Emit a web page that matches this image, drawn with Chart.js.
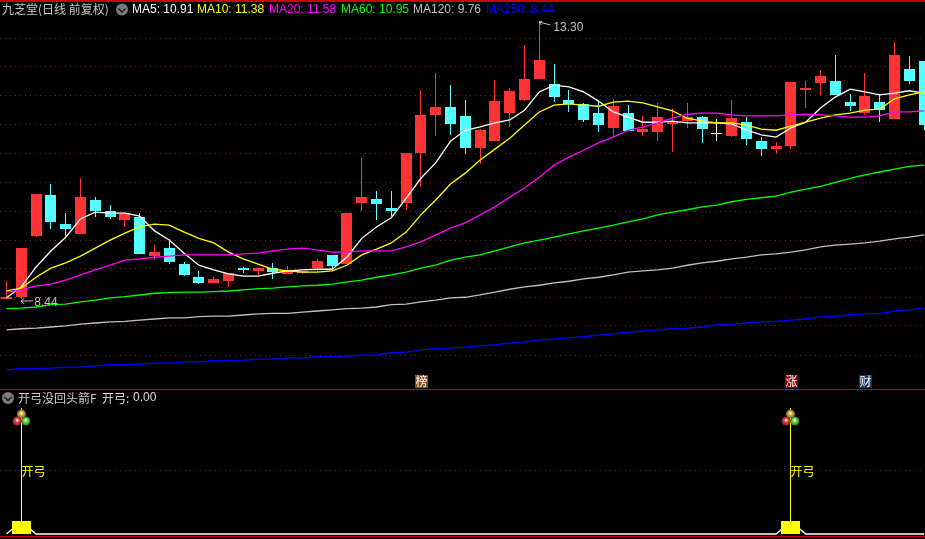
<!DOCTYPE html>
<html>
<head>
<meta charset="utf-8">
<title>九芝堂</title>
<script src="https://cdn.jsdelivr.net/npm/chart.js@4"></script>
<style>
    html, body { margin: 0; padding: 0; background: #000; overflow: hidden; }
    canvas { display: block; }
</style>
</head>
<body>
<canvas id="klineChart" width="925" height="539"></canvas>
<script>
const opens = [8.44,8.47,9.54,10.26,9.75,9.58,10.17,9.98,9.82,9.87,9.19,9.33,9.05,8.82,8.72,8.75,8.98,8.93,8.98,8.88,8.89,8.98,9.21,9.05,10.12,10.19,10.03,10.12,10.99,11.66,11.80,11.64,11.08,11.20,11.69,11.92,12.29,12.20,11.92,11.85,11.69,11.43,11.69,11.36,11.36,11.50,11.55,11.62,11.33,11.29,11.53,11.20,11.06,11.12,12.10,12.22,12.25,11.88,11.69,11.88,11.59,12.46,12.60];
const highs = [8.75,9.33,10.28,10.45,9.94,10.55,10.22,10.08,9.94,9.94,9.38,9.49,9.09,8.93,8.82,8.89,9.00,8.98,9.07,9.02,8.93,9.14,9.21,9.94,10.90,10.33,10.33,10.99,12.09,12.39,12.18,11.92,11.41,12.27,12.13,12.88,13.30,12.55,12.09,11.87,11.92,11.94,11.83,11.64,11.87,11.78,11.87,11.64,11.59,11.92,11.62,11.27,11.18,12.23,12.25,12.44,12.71,12.02,12.39,12.02,12.93,12.69,12.60];
const lows = [8.44,8.44,9.52,9.66,9.54,9.58,9.87,9.84,9.70,9.23,9.12,9.05,8.84,8.70,8.72,8.65,8.89,8.86,8.79,8.88,8.88,8.91,8.98,9.05,9.98,9.82,9.89,10.00,10.40,11.29,11.31,10.97,10.80,11.20,11.45,11.90,12.29,11.88,11.71,11.53,11.36,11.27,11.38,11.29,11.20,11.01,11.43,11.17,11.20,11.27,11.13,10.94,10.97,11.06,11.78,12.01,12.01,11.73,11.66,11.53,11.59,12.20,11.39];
const closes = [8.47,9.33,10.28,9.79,9.66,10.22,9.98,9.87,9.93,9.23,9.26,9.09,8.86,8.72,8.79,8.89,8.95,8.98,8.91,8.95,8.93,9.10,9.02,9.94,10.22,10.10,9.98,10.99,11.66,11.80,11.50,11.08,11.39,11.90,12.08,12.29,12.62,11.97,11.85,11.57,11.48,11.81,11.38,11.41,11.62,11.55,11.62,11.41,11.33,11.60,11.24,11.06,11.12,12.23,12.12,12.34,12.01,11.81,11.99,11.74,12.71,12.25,11.48];

const ma5 = [8.46,8.65,9.00,9.28,9.52,9.84,9.96,9.94,9.94,9.89,9.63,9.47,9.24,9.03,8.95,8.88,8.84,8.84,8.89,8.93,8.95,8.96,8.96,9.17,9.50,9.70,9.86,10.20,10.55,10.82,11.20,11.39,11.45,11.52,11.57,11.74,12.06,12.18,12.15,12.06,11.90,11.71,11.62,11.53,11.53,11.55,11.52,11.52,11.52,11.50,11.39,11.31,11.27,11.43,11.53,11.78,11.97,12.11,12.06,12.01,12.04,12.08,12.04];
const ma10 = [8.58,8.63,8.82,8.98,9.07,9.19,9.33,9.47,9.59,9.70,9.75,9.73,9.61,9.50,9.42,9.26,9.14,9.05,8.96,8.93,8.91,8.91,8.93,9.03,9.21,9.31,9.42,9.61,9.91,10.17,10.45,10.64,10.87,11.06,11.25,11.48,11.71,11.83,11.85,11.83,11.81,11.88,11.90,11.87,11.80,11.73,11.60,11.55,11.52,11.52,11.48,11.41,11.39,11.46,11.53,11.60,11.66,11.69,11.74,11.76,11.94,12.01,12.06];
const ma20 = [8.56,8.60,8.67,8.70,8.77,8.86,8.95,9.03,9.12,9.14,9.17,9.19,9.21,9.21,9.21,9.21,9.23,9.24,9.28,9.31,9.33,9.30,9.26,9.26,9.28,9.28,9.28,9.35,9.44,9.56,9.68,9.77,9.91,10.05,10.22,10.38,10.57,10.78,10.92,11.04,11.17,11.27,11.39,11.45,11.52,11.60,11.67,11.69,11.69,11.66,11.64,11.64,11.64,11.66,11.67,11.66,11.64,11.62,11.62,11.64,11.71,11.71,11.73];
const ma60 = [8.27,8.28,8.30,8.34,8.35,8.39,8.42,8.46,8.48,8.51,8.54,8.55,8.56,8.56,8.57,8.58,8.60,8.62,8.63,8.65,8.67,8.68,8.70,8.74,8.77,8.82,8.86,8.91,8.98,9.03,9.12,9.17,9.21,9.28,9.35,9.42,9.47,9.52,9.58,9.63,9.68,9.73,9.79,9.84,9.91,9.96,10.00,10.05,10.08,10.14,10.18,10.21,10.24,10.31,10.36,10.41,10.48,10.55,10.61,10.66,10.71,10.76,10.78];
const ma120 = [7.90,7.92,7.93,7.95,7.97,8.00,8.02,8.04,8.05,8.07,8.09,8.11,8.11,8.13,8.14,8.14,8.16,8.18,8.19,8.19,8.21,8.23,8.25,8.27,8.28,8.30,8.34,8.35,8.39,8.42,8.46,8.47,8.51,8.56,8.61,8.65,8.68,8.72,8.75,8.79,8.82,8.86,8.91,8.93,8.95,8.98,9.03,9.07,9.10,9.14,9.17,9.21,9.23,9.26,9.30,9.35,9.38,9.40,9.42,9.45,9.49,9.52,9.56];
const ma250 = [7.20,7.22,7.22,7.23,7.25,7.25,7.27,7.29,7.29,7.30,7.32,7.32,7.34,7.34,7.36,7.36,7.37,7.39,7.39,7.41,7.41,7.43,7.43,7.44,7.46,7.46,7.50,7.51,7.55,7.57,7.58,7.60,7.62,7.64,7.67,7.69,7.72,7.74,7.76,7.78,7.81,7.83,7.86,7.88,7.90,7.92,7.93,7.95,7.99,8.00,8.02,8.04,8.05,8.07,8.09,8.13,8.14,8.16,8.18,8.19,8.23,8.25,8.28];

// lower panel
const kaigong = [0,0.1,0,0,0,0,0,0,0,0,0,0,0,0,0,0,0,0,0,0,0,0,0,0,0,0,0,0,0,0,0,0,0,0,0,0,0,0,0,0,0,0,0,0,0,0,0,0,0,0,0,0,0,0.1,0,0,0,0,0,0,0,0,0];
const signalDays = [1, 53];
const signalStem = [1, 1];
const signalBlock = [0.1, 0.1];

const priceGrid = [12.994,12.496,11.989,11.482,10.983,10.485,9.978,9.471,8.973,8.466,7.968,7.460];
const subGrid = [0.5];

const headerLabels = ['MA5: 10.91','MA10: 11.38','MA20: 11.58','MA60: 10.95','MA120: 9.76','MA250: 8.44'];
const headerColors = ['#ffffff','#ffff00','#ff00ff','#00ff00','#c0c0c0','#0000ff'];
const headerX = [132,197,269,341,413,486];

const tagDays = [28, 53, 58];
const tagTexts = ['榜','涨','财'];
const tagColors = ['#8b4a10','#8b0000','#103a6b'];

const cjk = '"Noto Sans CJK SC", sans-serif';
const latin = '"Liberation Sans", sans-serif';

const RED = '#ff3333';
const CYAN = '#54ffff';

function candleColor(i) {
    if (closes[i] > opens[i]) return RED;
    if (closes[i] < opens[i]) return CYAN;
    return '#ffffff';
}

function toBars(lo, hi) {
    return lo.map((v, i) => ({ x: i, y: [v, hi[i]] }));
}

function toLine(values) {
    return values.map((v, i) => ({ x: i, y: v }));
}

function maDataset(label, values, color) {
    return {
        type: 'line',
        label: label,
        data: toLine(values),
        borderColor: color,
        borderWidth: 1.3,
        pointRadius: 0,
        tension: 0,
        yAxisID: 'y',
        order: 1
    };
}

function chevron(ctx, x, y) {
    ctx.fillStyle = '#7c7c7c';
    ctx.beginPath();
    ctx.arc(x, y, 6, 0, Math.PI * 2);
    ctx.fill();
    ctx.strokeStyle = '#1a1a1a';
    ctx.lineWidth = 1.4;
    ctx.beginPath();
    ctx.moveTo(x - 3.5, y - 1);
    ctx.lineTo(x, y + 2.5);
    ctx.lineTo(x + 3.5, y - 1);
    ctx.stroke();
}

function ball(ctx, x, y, color, edge) {
    const g = ctx.createRadialGradient(x, y - 1, 0.5, x, y, 4.6);
    g.addColorStop(0, '#fff0e0');
    g.addColorStop(0.4, color);
    g.addColorStop(1, edge);
    ctx.fillStyle = g;
    ctx.beginPath();
    ctx.arc(x, y, 4.6, 0, Math.PI * 2);
    ctx.fill();
}

const pixelSnap = {
    id: 'pixelSnap',
    beforeDatasetsDraw(chart) {
        chart.data.datasets.forEach((ds, n) => {
            const meta = chart.getDatasetMeta(n);
            if (meta.type !== 'bar') return;
            meta.data.forEach(el => {
                el.x = Math.floor(el.x) + 0.5;
                el.y = Math.round(el.y);
                el.base = Math.round(el.base);
            });
        });
    }
};

const decorations = {
    id: 'decorations',
    afterDraw(chart) {
        const ctx = chart.ctx;
        const x = chart.scales.x;
        const y = chart.scales.y;
        const sub = chart.scales.ySub;
        ctx.save();

        // panel borders
        ctx.fillStyle = '#c80000';
        ctx.fillRect(0, 0, 925, 2);
        ctx.fillRect(0, 389, 925, 1);
        ctx.fillRect(0, 536, 925, 1);

        ctx.textBaseline = 'middle';
        ctx.textAlign = 'left';

        ctx.font = '12px ' + cjk;
        ctx.fillStyle = '#c8c8c8';
        ctx.fillText('九芝堂(日线 前复权)', 2, 9);
        chevron(ctx, 122, 9.5);

        ctx.font = '12px ' + latin;
        headerLabels.forEach((t, i) => {
            ctx.fillStyle = headerColors[i];
            ctx.fillText(t, headerX[i], 9.5);
        });

        // high and low notes
        ctx.fillStyle = '#c0c0c0';
        ctx.strokeStyle = '#c0c0c0';
        ctx.lineWidth = 1;
        const hx = x.getPixelForValue(36);
        const hy = y.getPixelForValue(13.30);
        ctx.beginPath();
        ctx.moveTo(hx, hy + 1);
        ctx.lineTo(hx + 11, hy + 4);
        ctx.moveTo(hx, hy + 1);
        ctx.lineTo(hx + 3, hy);
        ctx.moveTo(hx, hy + 1);
        ctx.lineTo(hx + 2, hy + 4);
        ctx.stroke();
        ctx.fillText('13.30', hx + 14, hy + 7);
        const lx = x.getPixelForValue(1);
        const ly = y.getPixelForValue(8.44);
        ctx.beginPath();
        ctx.moveTo(lx, ly + 2);
        ctx.lineTo(lx + 12, ly + 2);
        ctx.moveTo(lx, ly + 2);
        ctx.lineTo(lx + 3, ly - 1);
        ctx.moveTo(lx, ly + 2);
        ctx.lineTo(lx + 3, ly + 5);
        ctx.stroke();
        ctx.fillText('8.44', lx + 13, ly + 4);

        // event tags above the panel border
        ctx.font = '12px ' + cjk;
        ctx.textAlign = 'center';
        tagDays.forEach((d, i) => {
            const tx = x.getPixelForValue(d);
            ctx.fillStyle = tagColors[i];
            ctx.fillRect(Math.round(tx) - 6, 375, 13, 13);
            ctx.fillStyle = '#ffffff';
            ctx.fillText(tagTexts[i], tx + 0.5, 381.5);
        });
        ctx.textAlign = 'left';

        // lower panel header
        chevron(ctx, 8, 398);
        ctx.font = '12px ' + cjk;
        ctx.fillStyle = '#c8c8c8';
        ctx.fillText('开弓没回头箭F', 18, 398);
        ctx.fillStyle = '#dcdcdc';
        ctx.fillText('开弓:', 102, 398);
        ctx.font = '12px ' + latin;
        ctx.fillText('0.00', 133, 398);

        // signal markers
        signalDays.forEach((d, i) => {
            const px = Math.floor(x.getPixelForValue(d)) + 0.5;
            const top = sub.getPixelForValue(signalStem[i]);
            ball(ctx, px, top + 6, '#d8a838', '#6a5a30');
            ball(ctx, px - 4.3, top + 13, '#e83838', '#8a2020');
            ball(ctx, px + 4.3, top + 13, '#60d838', '#307020');
            ctx.fillStyle = '#ffff00';
            ctx.font = '12px ' + cjk;
            ctx.fillText('开弓', px, sub.getPixelForValue(0.5));
        });

        ctx.restore();
    }
};

document.addEventListener('DOMContentLoaded', function () {
    const canvas = document.getElementById('klineChart');

    new Chart(canvas, {
        data: {
            datasets: [
                maDataset('MA250', ma250, '#0000ff'),
                maDataset('MA120', ma120, '#c0c0c0'),
                maDataset('MA60', ma60, '#00ff00'),
                maDataset('MA20', ma20, '#ff00ff'),
                maDataset('MA10', ma10, '#ffff00'),
                maDataset('MA5', ma5, '#ffffff'),
                {
                    type: 'bar',
                    label: 'body',
                    data: toBars(opens, closes),
                    backgroundColor: opens.map((v, i) => candleColor(i)),
                    barThickness: 11,
                    minBarLength: 1,
                    grouped: false,
                    inflateAmount: 0,
                    yAxisID: 'y',
                    order: 2
                },
                {
                    type: 'bar',
                    label: 'wick',
                    data: toBars(lows, highs),
                    backgroundColor: opens.map((v, i) => candleColor(i)),
                    barThickness: 1,
                    grouped: false,
                    inflateAmount: 0,
                    yAxisID: 'y',
                    order: 3
                },
                {
                    type: 'line',
                    label: '开弓',
                    data: toLine(kaigong),
                    borderColor: '#ffffff',
                    borderWidth: 1.3,
                    pointRadius: 0,
                    tension: 0,
                    yAxisID: 'ySub',
                    order: 3
                },
                {
                    type: 'bar',
                    label: 'block',
                    data: signalDays.map((d, i) => ({ x: d, y: [0, signalBlock[i]] })),
                    backgroundColor: '#ffff00',
                    barThickness: 19,
                    grouped: false,
                    inflateAmount: 0,
                    yAxisID: 'ySub',
                    order: 1
                },
                {
                    type: 'bar',
                    label: 'stem',
                    data: signalDays.map((d, i) => ({ x: d, y: [0, signalStem[i]] })),
                    backgroundColor: '#ffff00',
                    barThickness: 1,
                    grouped: false,
                    inflateAmount: 0,
                    yAxisID: 'ySub',
                    order: 1
                }
            ]
        },
        options: {
            responsive: false,
            animation: false,
            layout: { padding: 0 },
            plugins: {
                legend: { display: false },
                title: { display: false },
                tooltip: { enabled: false }
            },
            scales: {
                x: {
                    type: 'linear',
                    display: false,
                    min: -0.439,
                    max: 62.06,
                    offset: false
                },
                y: {
                    type: 'linear',
                    min: 4.244,
                    max: 13.667,
                    afterBuildTicks: function (scale) {
                        scale.ticks = priceGrid.map(v => ({ value: v }));
                    },
                    ticks: { display: false },
                    grid: { color: '#901818', lineWidth: 1, drawTicks: false },
                    border: { display: false, dash: [1, 4] }
                },
                ySub: {
                    type: 'linear',
                    min: -0.0397,
                    max: 4.238,
                    afterBuildTicks: function (scale) {
                        scale.ticks = subGrid.map(v => ({ value: v }));
                    },
                    ticks: { display: false },
                    grid: { color: '#901818', lineWidth: 1, drawTicks: false },
                    border: { display: false, dash: [1, 4] }
                }
            }
        },
        plugins: [pixelSnap, decorations]
    });
});
</script>
</body>
</html>
